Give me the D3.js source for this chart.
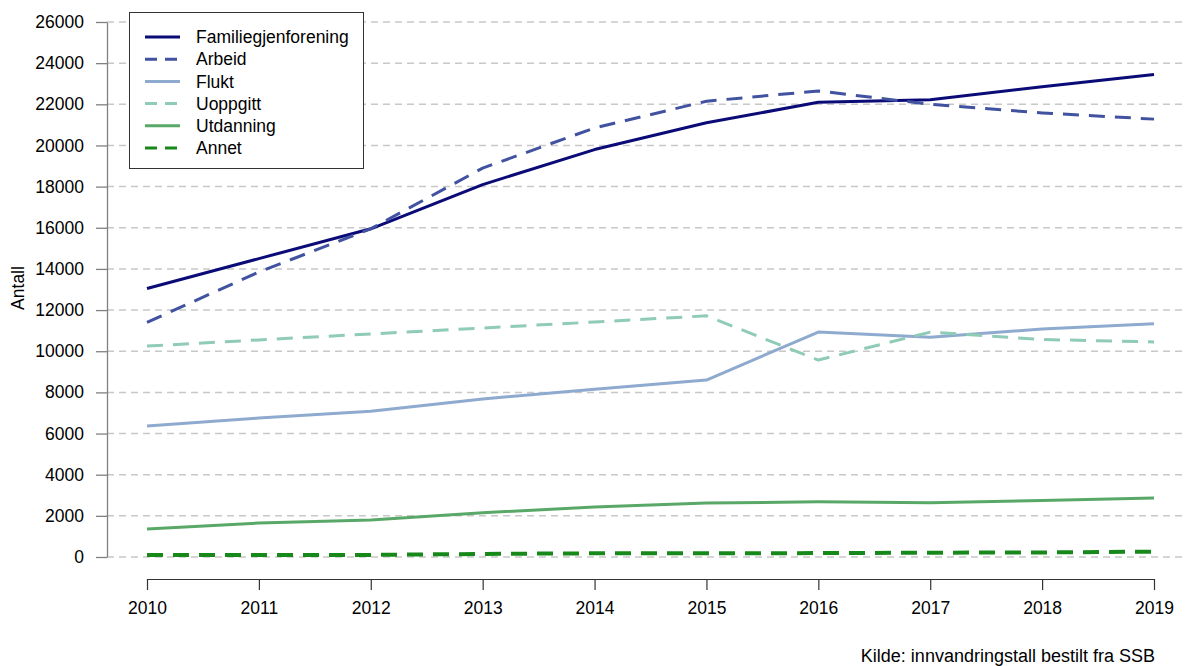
<!DOCTYPE html>
<html lang="no">

<head>
  <meta charset="utf-8">
  <script src="https://d3js.org/d3.v7.min.js"></script>
  <style>
    body {
      margin: 0;
      background: #fff;
    }

    svg text {
      font-family: "Liberation Sans", Arial, sans-serif;
      fill: #000;
    }
  </style>
</head>

<body>
  <svg></svg>

  <script>
    // data
    var years = [2010, 2011, 2012, 2013, 2014, 2015, 2016, 2017, 2018, 2019];
    var familiegjenforening = [13050, 14500, 15950, 18100, 19800, 21100, 22100, 22220, 22850, 23450];
    var arbeid = [11400, 13850, 15950, 18900, 20850, 22150, 22650, 22000, 21580, 21280];
    var flukt = [6370, 6750, 7080, 7680, 8150, 8600, 10930, 10680, 11080, 11330];
    var uoppgitt = [10250, 10550, 10840, 11130, 11420, 11720, 9570, 10930, 10570, 10450];
    var utdanning = [1360, 1650, 1800, 2150, 2430, 2620, 2680, 2640, 2740, 2870];
    var annet = [100, 100, 100, 150, 180, 180, 190, 210, 220, 260];
    var yTicks = [0, 2000, 4000, 6000, 8000, 10000, 12000, 14000, 16000, 18000, 20000, 22000, 24000, 26000];

    var series = [
      { name: 'Familiegjenforening', values: familiegjenforening, color: '#0b0b78', dash: null },
      { name: 'Arbeid', values: arbeid, color: '#4152a0', dash: '16,10' },
      { name: 'Flukt', values: flukt, color: '#8eaacf', dash: null },
      { name: 'Uoppgitt', values: uoppgitt, color: '#8fcbb5', dash: '16,10' },
      { name: 'Utdanning', values: utdanning, color: '#5aa868', dash: null },
      { name: 'Annet', values: annet, color: '#17891a', dash: '16,10' }
    ];

    var width = 1187,
      height = 666,
      fontSize = '17.5px';

    var x = d3.scaleLinear()
      .domain([2010, 2019])
      .range([147, 1154]);

    var y = d3.scaleLinear()
      .domain([0, 26000])
      .range([557, 22]);

    var svg = d3.select('svg')
      .attr('width', width)
      .attr('height', height);

    // grid lines
    svg.append('g')
      .selectAll('line')
      .data(yTicks)
      .enter().append('line')
      .attr('x1', 107)
      .attr('x2', width)
      .attr('y1', function (d) { return y(d); })
      .attr('y2', function (d) { return y(d); })
      .attr('stroke', '#c8c8c8')
      .attr('stroke-width', 1.5)
      .attr('stroke-dasharray', '7,5');

    // y axis
    var yAxis = svg.append('g')
      .attr('transform', 'translate(107,0)')
      .call(d3.axisLeft(y).tickValues(yTicks).tickSize(11).tickSizeOuter(0).tickPadding(12)
        .tickFormat(d3.format('d')));
    yAxis.select('.domain').attr('stroke', '#808080').attr('stroke-width', 1.3);
    yAxis.selectAll('.tick line').attr('stroke', '#808080').attr('stroke-width', 1.3);
    yAxis.selectAll('.tick text').style('font-size', fontSize).attr('fill', '#000');

    // x axis
    var xAxis = svg.append('g')
      .attr('transform', 'translate(0,579)')
      .call(d3.axisBottom(x).tickValues(years).tickSize(11).tickSizeOuter(0).tickPadding(12)
        .tickFormat(d3.format('d')));
    xAxis.select('.domain').attr('stroke', '#333').attr('stroke-width', 1.2);
    xAxis.selectAll('.tick line').attr('stroke', '#333').attr('stroke-width', 1.2);
    xAxis.selectAll('.tick text').style('font-size', fontSize).attr('fill', '#000');

    svg.append('text')
      .attr('transform', 'translate(24,288) rotate(-90)')
      .attr('text-anchor', 'middle')
      .style('font-size', fontSize)
      .text('Antall');

    // lines
    var line = d3.line()
      .x(function (d, i) { return x(years[i]); })
      .y(function (d) { return y(d); });

    svg.append('g')
      .selectAll('path')
      .data(series)
      .enter().append('path')
      .attr('d', function (s) { return line(s.values); })
      .attr('fill', 'none')
      .attr('stroke', function (s) { return s.color; })
      .attr('stroke-width', function (s) { return s.name === 'Annet' ? 4 : 3; })
      .attr('stroke-dasharray', function (s) { return s.dash; })
      .attr('stroke-linejoin', 'round');

    // legend
    var legend = svg.append('g')
      .attr('transform', 'translate(129,12)');

    legend.append('rect')
      .attr('x', 0.5)
      .attr('y', 0.5)
      .attr('width', 234)
      .attr('height', 156)
      .attr('fill', '#fff')
      .attr('stroke', '#333')
      .attr('stroke-width', 1);

    var items = legend.selectAll('g.item')
      .data(series)
      .enter().append('g')
      .attr('class', 'item')
      .attr('transform', function (d, i) { return 'translate(0,' + (25 + i * 22.2) + ')'; });

    items.append('line')
      .attr('x1', 16)
      .attr('x2', 51)
      .attr('stroke', function (s) { return s.color; })
      .attr('stroke-width', 3)
      .attr('stroke-dasharray', function (s) { return s.dash ? '12,8' : null; });

    items.append('text')
      .attr('x', 67)
      .attr('dy', '0.35em')
      .style('font-size', fontSize)
      .text(function (s) { return s.name; });

    svg.append('text')
      .attr('x', 1155)
      .attr('y', 662)
      .attr('text-anchor', 'end')
      .style('font-size', '18px')
      .text('Kilde: innvandringstall bestilt fra SSB');
  </script>
</body>

</html>
